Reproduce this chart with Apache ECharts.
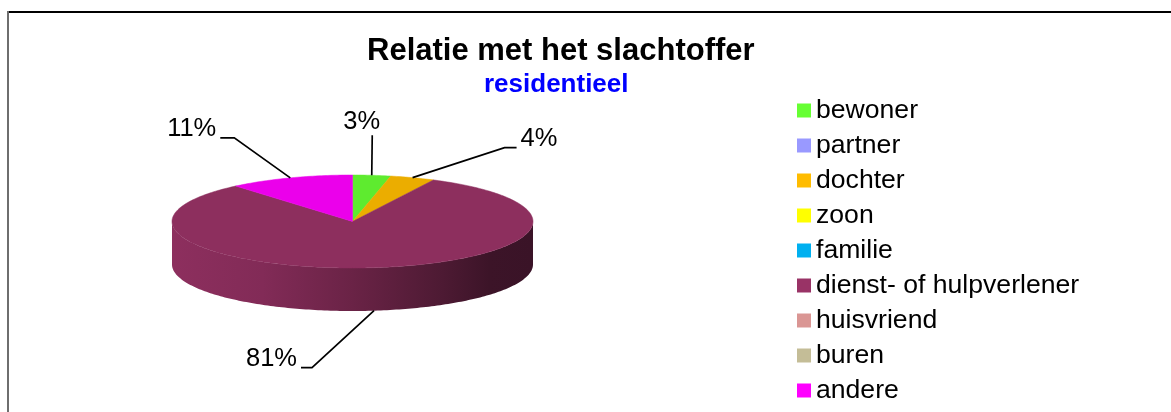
<!DOCTYPE html>
<html>
<head>
<meta charset="utf-8">
<script src="https://cdn.jsdelivr.net/npm/echarts@6/dist/echarts.min.js"></script>
<style>
  html, body { margin: 0; padding: 0; background: #fff; }
  #chart { width: 1171px; height: 412px; }
</style>
</head>
<body>
<div id="chart"></div>
<script>
// Categories, shares (%) and legend colours
const categories = ['bewoner', 'partner', 'dochter', 'zoon', 'familie',
  'dienst- of hulpverlener', 'huisvriend', 'buren', 'andere'];
const shares = [3.4, 0, 4.0, 0, 0, 81.4, 0, 0, 11.2];
const colors = ['#66FF33', '#9999FF', '#FFBC00', '#FFFF00', '#00B0F0',
  '#993366', '#DA9694', '#C4BD97', '#FF00FF'];
const titleText = 'Relatie met het slachtoffer';
const subtitleText = 'residentieel';

// Tilted disc geometry (pixels)
const disc = { cx: 352.5, cy: 221.5, rx: 180.5, ry: 46.5, depth: 43 };
// Leader routing from the rim anchor: [dx, dy, horizontal run]
const leaderRoute = {
  'bewoner': [0.5, -40, 0],
  'dochter': [92, -30, 12],
  'dienst- of hulpverlener': [-62, 57, -11],
  'andere': [-56, -40, -14]
};
const FONT = "'Liberation Sans', Arial, Helvetica, sans-serif";

const total = shares.reduce((a, b) => a + b, 0);
const startAngle = [];
shares.reduce((acc, v, i) => { startAngle[i] = acc; return acc + v / total * 360; }, 0);

function shade(hex, f) {
  const n = parseInt(hex.slice(1), 16);
  const r = Math.round(((n >> 16) & 255) * f);
  const g = Math.round(((n >> 8) & 255) * f);
  const b = Math.round((n & 255) * f);
  return 'rgb(' + r + ',' + g + ',' + b + ')';
}
// angle in degrees, clockwise from 12 o'clock
function rim(deg, drop) {
  const t = deg * Math.PI / 180;
  return [disc.cx + disc.rx * Math.sin(t), disc.cy - disc.ry * Math.cos(t) + (drop || 0)];
}
function arcPoints(a0, a1, drop) {
  const pts = [];
  const steps = Math.max(2, Math.ceil(Math.abs(a1 - a0) / 1));
  for (let k = 0; k <= steps; k++) pts.push(rim(a0 + (a1 - a0) * k / steps, drop));
  return pts;
}

const empty = { type: 'group', children: [] };

// Outer wall of the disc (only the front half is visible)
function renderWall(params, api) {
  const i = params.dataIndex;
  const v = api.value(0);
  if (!v) return empty;
  const a0 = startAngle[i], a1 = a0 + v / total * 360;
  const lo = Math.max(a0, 90), hi = Math.min(a1, 270);
  if (hi <= lo) return empty;
  const top = arcPoints(lo, hi, 0);
  const bottom = arcPoints(hi, lo, disc.depth);
  const c = colors[i];
  const fill = new echarts.graphic.LinearGradient(disc.cx - disc.rx, 0, disc.cx + disc.rx, 0, [
    { offset: 0, color: shade(c, 0.92) },
    { offset: 0.25, color: shade(c, 0.85) },
    { offset: 0.5, color: shade(c, 0.69) },
    { offset: 0.75, color: shade(c, 0.5) },
    { offset: 0.88, color: shade(c, 0.39) },
    { offset: 1, color: shade(c, 0.38) }
  ], true);
  return { type: 'polygon', shape: { points: top.concat(bottom) }, style: { fill: fill } };
}

// Top faces plus percentage labels with leader lines
function renderTop(params, api) {
  const i = params.dataIndex;
  const v = api.value(0);
  if (!v) return empty;
  const a0 = startAngle[i], a1 = a0 + v / total * 360;
  const children = [];
  const pts = [[disc.cx, disc.cy]].concat(arcPoints(a0, a1, 0));
  children.push({ type: 'polygon', shape: { points: pts },
    style: { fill: shade(colors[i], 0.92), stroke: shade(colors[i], 0.92), lineWidth: 0.5 }, z2: 1 });

  const route = leaderRoute[categories[i]];
  if (route) {
    const mid = (a0 + a1) / 2;
    const front = mid > 90 && mid < 270;
    const anchor = rim(mid, front ? disc.depth : 0);
    const elbow = [anchor[0] + route[0], anchor[1] + route[1]];
    const end = [elbow[0] + route[2], elbow[1]];
    const label = Math.round(v / total * 100) + '%';
    children.push({ type: 'polyline', shape: { points: [anchor, elbow, end] },
      style: { stroke: '#000', lineWidth: 1.7, fill: null }, z2: 5 });
    let tx, ty, align;
    if (route[2] === 0) {
      tx = elbow[0] - 10.5; ty = elbow[1] - 13.5; align = 'center';
    } else {
      const s = route[2] > 0 ? 1 : -1;
      tx = end[0] + s * 4; ty = end[1] - 9; align = s > 0 ? 'left' : 'right';
    }
    children.push({ type: 'text', x: tx, y: ty, z2: 6,
      style: { text: label, fill: '#000', font: '25.5px ' + FONT, align: align, verticalAlign: 'middle' } });
  }
  return { type: 'group', children: children };
}

const chart = echarts.init(document.getElementById('chart'), null, { renderer: 'canvas' });
chart.setOption({
  animation: false,
  backgroundColor: '#fff',
  title: [
    { text: titleText, left: 367, top: 36, padding: 0,
      textStyle: { fontSize: 31, fontWeight: 'bold', color: '#000', fontFamily: FONT, lineHeight: 31 } },
    { text: subtitleText, left: 484, top: 72, padding: 0,
      textStyle: { fontSize: 26, fontWeight: 'bold', color: '#0000FF', fontFamily: FONT, lineHeight: 26 } }
  ],
  legend: {
    orient: 'vertical', left: 797, top: 97, padding: 0,
    itemWidth: 14, itemHeight: 14, itemGap: 8.0, icon: 'rect',
    selectedMode: false, data: categories,
    textStyle: { fontSize: 26.6, color: '#000', fontFamily: FONT, lineHeight: 26 }
  },
  graphic: [
    { type: 'line', shape: { x1: 8, y1: 12, x2: 1171, y2: 12 }, style: { stroke: '#000', lineWidth: 2 }, silent: true },
    { type: 'line', shape: { x1: 8, y1: 11, x2: 8, y2: 412 }, style: { stroke: '#6e6e6e', lineWidth: 2 }, silent: true }
  ],
  series: [
    {
      // legend carrier: slices sized to nothing, the disc is drawn below
      type: 'pie', radius: [0, 0], center: [disc.cx, disc.cy], silent: true,
      label: { show: false }, labelLine: { show: false },
      data: categories.map((n, i) => ({ name: n, value: shares[i], itemStyle: { color: colors[i] } }))
    },
    {
      type: 'custom', name: 'wall', coordinateSystem: 'none', z: 2, silent: true,
      renderItem: renderWall, data: shares.map(v => [v])
    },
    {
      type: 'custom', name: 'top', coordinateSystem: 'none', z: 3, silent: true,
      renderItem: renderTop, data: shares.map(v => [v])
    }
  ]
});
</script>
</body>
</html>
